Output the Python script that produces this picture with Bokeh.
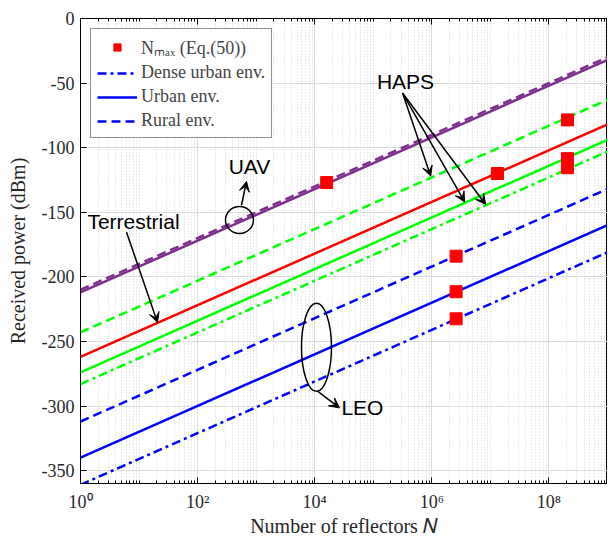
from bokeh.plotting import figure
from bokeh.models import (FixedTicker, Label, Arrow, VeeHead, Legend, LegendItem,
                          Range1d, LogAxis)
from bokeh.embed import file_html
from bokeh.resources import INLINE

# ---------------- data ----------------
N_ends = [1, 1e9]
uav_urban = [-212, -32]
uav_rural = [-210, -30]
haps_rural = [-243, -63]
terrestrial = [-262, -82]
haps_urban = [-274, -94]
haps_dense = [-283, -103]
leo_rural = [-312, -132]
leo_urban = [-340, -160]
leo_dense = [-361, -181]

nmax_N = [1.6e4, 2.6e6, 2.6e6, 2.6e6, 1.32e7, 2.07e8, 2.07e8, 2.07e8]
nmax_P = [-127, -184, -211.5, -232.5, -120, -78.5, -108.5, -115.5]

x_major = [1, 1e2, 1e4, 1e6, 1e8]
x_labels = ["10⁰", "10²", "10⁴", "10⁶", "10⁸"]
y_major = [0, -50, -100, -150, -200, -250, -300, -350]
y_labels = ["0", "-50", "-100", "-150", "-200", "-250", "-300", "-350"]

PURPLE = "#7E2F8E"
GREEN = "#00FF00"
RED = "#FF0000"
BLUE = "#0000FF"
SERIF = "Liberation Serif"
SANS = "Liberation Sans"

x_minor = [k * 10 ** d for d in range(0, 9) for k in range(1, 10)] + [1e9]

p = figure(width=607, height=539, x_axis_type="log",
           x_range=Range1d(1, 1e9), y_range=Range1d(-360, 0),
           output_backend="svg", toolbar_location=None,
           min_border_left=80, min_border_right=0, min_border_top=18,
           min_border_bottom=53)
p.background_fill_color = "white"
p.border_fill_color = "white"
p.outline_line_color = "black"
p.outline_line_width = 1

xt = FixedTicker(ticks=x_major, minor_ticks=x_minor)
p.xaxis.ticker = xt
p.xaxis.major_label_overrides = {v: s for v, s in zip(x_major, x_labels)}
p.yaxis.ticker = FixedTicker(ticks=y_major)
p.yaxis.major_label_overrides = {v: s for v, s in zip(y_major, y_labels)}

for ax in (p.xaxis[0], p.yaxis[0]):
    ax.major_tick_in = 6
    ax.major_tick_out = 0
    ax.minor_tick_in = 3
    ax.minor_tick_out = 0
    ax.axis_line_color = "black"
    ax.major_tick_line_color = "black"
    ax.minor_tick_line_color = "black"
    ax.major_label_text_font = SERIF
    ax.major_label_text_font_size = "18px"
    ax.major_label_text_color = "#262626"
    ax.axis_label_text_font = SERIF
    ax.axis_label_text_font_style = "normal"
    ax.axis_label_text_font_size = "20px"
    ax.axis_label_text_color = "#262626"

p.xaxis.major_label_standoff = 8
p.xaxis.axis_label = "Number of reflectors 𝑁"
p.xaxis.axis_label_standoff = 0
p.yaxis.major_label_standoff = 6
p.yaxis.axis_label = "Received power (dBm)"
p.yaxis.axis_label_standoff = 10
p.yaxis.minor_tick_line_color = None

# top axis: ticks only (box style)
top = LogAxis(ticker=FixedTicker(ticks=x_major, minor_ticks=x_minor),
              major_tick_in=6, major_tick_out=0, minor_tick_in=3, minor_tick_out=0,
              major_label_text_font_size="0px", major_label_standoff=0,
              axis_line_color="black", major_tick_line_color="black",
              minor_tick_line_color="black")
top.major_label_overrides = {v: "" for v in x_major}
p.add_layout(top, "above")

p.xgrid.grid_line_color = "#dcdcdc"
p.xgrid.minor_grid_line_color = "#d4d4d4"
p.xgrid.minor_grid_line_dash = "1 2"
p.ygrid.grid_line_color = "#dcdcdc"

# ---------------- lines ----------------
LW = 2.5
p.line(N_ends, uav_urban, color=PURPLE, line_width=LW)
p.line(N_ends, uav_rural, color=PURPLE, line_width=LW, line_dash="9 5")
p.line(N_ends, haps_rural, color=GREEN, line_width=LW, line_dash="9 5")
p.line(N_ends, terrestrial, color=RED, line_width=LW)
p.line(N_ends, haps_urban, color=GREEN, line_width=LW)
p.line(N_ends, haps_dense, color=GREEN, line_width=LW, line_dash="9 4 3 4")
r_rural = p.line(N_ends, leo_rural, color=BLUE, line_width=LW, line_dash="9 5")
r_urban = p.line(N_ends, leo_urban, color=BLUE, line_width=LW)
r_dense = p.line(N_ends, leo_dense, color=BLUE, line_width=LW, line_dash="9 4 3 4")

r_sq = p.scatter(nmax_N, nmax_P, marker="square", size=12, fill_color=RED,
                 line_color=RED)

# ---------------- annotations ----------------
def lbl(x, y, t):
    p.add_layout(Label(x=x, y=y, text=t, text_font=SANS, text_font_size="21px",
                       text_align="center", text_baseline="middle",
                       text_color="black"))

def arr(x0, y0, x1, y1):
    p.add_layout(Arrow(end=VeeHead(size=10, fill_color="black", line_color="black",
                                   line_width=1),
                       x_start=x0, y_start=y0, x_end=x1, y_end=y1,
                       line_color="black", line_width=1.5))

lbl(10 ** 5.55, -48.5, "HAPS")
arr(10 ** 5.50, -57.7, 10 ** 5.98, -122)
arr(10 ** 5.50, -57.7, 10 ** 6.56, -142)
arr(10 ** 5.50, -57.7, 10 ** 6.92, -144)

lbl(10 ** 2.886, -114.6, "UAV")
arr(10 ** 2.749, -144.6, 10 ** 2.835, -126.2)

lbl(10 ** 0.905, -157, "Terrestrial")
arr(10 ** 0.786, -165.4, 10 ** 1.315, -235.4)

lbl(10 ** 4.815, -300.8, "LEO")
arr(10 ** 4.047, -288.5, 10 ** 4.423, -301.5)

p.ellipse(x=[10 ** 2.715, 10 ** 4.03], y=[-156, -254.6], width=[28, 30],
          height=[27, 88], width_units="screen", height_units="screen",
          fill_color=None, line_color="black", line_width=1.5)

# ---------------- legend ----------------
legend = Legend(items=[
    LegendItem(label="Nₘₐₓ (Eq.(50))", renderers=[r_sq]),
    LegendItem(label="Dense urban env.", renderers=[r_dense]),
    LegendItem(label="Urban env.", renderers=[r_urban]),
    LegendItem(label="Rural env.", renderers=[r_rural]),
], location="top_left")
legend.margin = 10
legend.padding = 6
legend.spacing = 3
legend.glyph_width = 40
legend.glyph_height = 18
legend.label_height = 18
legend.label_standoff = 4
legend.label_text_font = SERIF
legend.label_text_font_size = "18px"
legend.border_line_color = "#262626"
legend.border_line_width = 1
legend.background_fill_color = "white"
legend.background_fill_alpha = 1
p.add_layout(legend)

open("out.html", "w").write(file_html(p, INLINE))
